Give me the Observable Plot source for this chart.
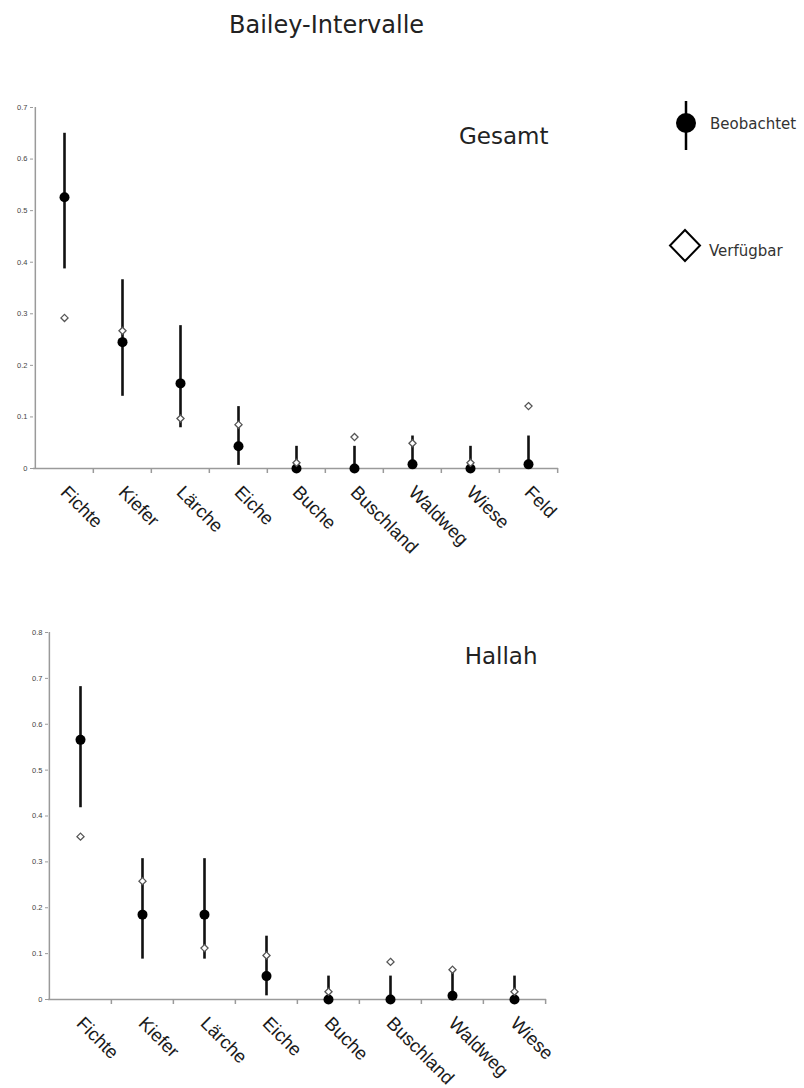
<!DOCTYPE html>
<html>
<head>
<meta charset="utf-8">
<script src="https://cdn.jsdelivr.net/npm/d3@7"></script>
<script src="https://cdn.jsdelivr.net/npm/@observablehq/plot@0.6"></script>
<style>
  html, body { margin: 0; padding: 0; background: #fff; }
  #page { position: relative; width: 804px; height: 1088px; overflow: hidden; background: #fff; }
  .abs { position: absolute; }
  #title { left: 229px; top: 13px; font: 24px "DejaVu Sans", Verdana, sans-serif; line-height: 24px; color: #222; white-space: nowrap; }
</style>
</head>
<body>
<div id="page">
  <div id="title" class="abs">Bailey-Intervalle</div>
  <div id="chart1" class="abs" style="left:0px; top:90px;"></div>
  <div id="chart2" class="abs" style="left:0px; top:600px;"></div>
  <svg id="legend" class="abs" style="left:0px; top:0px;" width="804" height="300">
    <line x1="686" y1="101" x2="686" y2="150" stroke="#000" stroke-width="2.5"></line>
    <circle cx="686" cy="123" r="10" fill="#000"></circle>
    <text x="710" y="129" font-family="DejaVu Sans, Verdana, sans-serif" font-size="15" fill="#333">Beobachtet</text>
    <path d="M685,230 L700,245.5 L685,261 L670,245.5 Z" fill="#fff" stroke="#000" stroke-width="2"></path>
    <text x="709" y="256" font-family="DejaVu Sans, Verdana, sans-serif" font-size="15" fill="#333">Verfügbar</text>
  </svg>
</div>
<script>
// ---- Data: Gesamt ----
const gesamtCategories = ["Fichte", "Kiefer", "Lärche", "Eiche", "Buche", "Buschland", "Waldweg", "Wiese", "Feld"];
const gesamtObserved  = [0.526, 0.245, 0.165, 0.043, 0.000, 0.000, 0.008, 0.000, 0.008];
const gesamtLower     = [0.387, 0.140, 0.079, 0.006, 0.000, 0.000, 0.000, 0.000, 0.000];
const gesamtUpper     = [0.650, 0.366, 0.277, 0.120, 0.043, 0.043, 0.063, 0.043, 0.063];
const gesamtAvailable = [0.292, 0.267, 0.097, 0.085, 0.011, 0.061, 0.049, 0.011, 0.121];
const gesamtTicks = [0, 0.1, 0.2, 0.3, 0.4, 0.5, 0.6, 0.7];

// ---- Data: Hallah ----
const hallahCategories = ["Fichte", "Kiefer", "Lärche", "Eiche", "Buche", "Buschland", "Waldweg", "Wiese"];
const hallahObserved  = [0.566, 0.185, 0.185, 0.051, 0.000, 0.000, 0.008, 0.000];
const hallahLower     = [0.418, 0.088, 0.088, 0.008, 0.000, 0.000, 0.000, 0.000];
const hallahUpper     = [0.682, 0.307, 0.307, 0.138, 0.051, 0.051, 0.063, 0.051];
const hallahAvailable = [0.355, 0.258, 0.112, 0.096, 0.017, 0.082, 0.065, 0.017];
const hallahTicks = [0, 0.1, 0.2, 0.3, 0.4, 0.5, 0.6, 0.7, 0.8];

function makeChart({cats, obs, low, high, avail, ticks, panelTitle, width, height, ml, mr, mt, mb, titleDx, titleDy}) {
  const data = cats.map((c, i) => ({cat: c, obs: obs[i], low: low[i], high: high[i], avail: avail[i]}));
  const bw = (width - ml - mr) / cats.length;
  const frameH = height - mt - mb;
  const axisColor = "#9a9a9a";
  return Plot.plot({
    width, height,
    marginLeft: ml, marginRight: mr, marginTop: mt, marginBottom: mb,
    style: {background: "transparent", overflow: "visible"},
    x: {type: "band", domain: cats, padding: 0, axis: null},
    y: {domain: [0, ticks[ticks.length - 1]], axis: null},
    marks: [
      // x axis line
      Plot.ruleY([0], {stroke: axisColor, strokeWidth: 1.5}),
      // y axis line (left edge of first band)
      Plot.ruleX([cats[0]], {x: d => d, dx: -bw / 2, stroke: axisColor, strokeWidth: 1.5}),
      // category boundary ticks below the axis
      Plot.ruleX(cats.slice(1), {x: d => d, dx: -bw / 2, insetTop: frameH, insetBottom: -5, stroke: axisColor, strokeWidth: 1.5}),
      Plot.ruleX([cats[cats.length - 1]], {x: d => d, dx: bw / 2, insetTop: frameH, insetBottom: -5, stroke: axisColor, strokeWidth: 1.5}),
      // y axis ticks and labels
      Plot.axisY(ticks, {
        tickSize: 3, tickPadding: 3,
        tickFormat: d => d === 0 ? "0" : d.toFixed(1),
        fontSize: 7.5, fontFamily: "Liberation Sans, Arial, sans-serif",
        fill: "#444", stroke: axisColor
      }),
      // category labels
      Plot.text(cats, {
        x: d => d,
        frameAnchor: "bottom", rotate: 45, textAnchor: "start", lineAnchor: "bottom",
        dx: -5, dy: 25, fontSize: 18.5, fontFamily: "Liberation Sans, Arial, sans-serif", fill: "#1a1a1a"
      }),
      // intervals
      Plot.ruleX(data, {x: "cat", y1: "low", y2: "high", stroke: "#111", strokeWidth: 2.6}),
      // observed
      Plot.dot(data, {x: "cat", y: "obs", r: 5, fill: "#000", stroke: "none"}),
      // available
      Plot.dot(data, {x: "cat", y: "avail", symbol: "diamond2", r: 3.2, fill: "#fff", stroke: "#555", strokeWidth: 1.3}),
      // panel title
      Plot.text([panelTitle], {
        frameAnchor: "top-right", textAnchor: "end", lineAnchor: "bottom",
        dx: titleDx, dy: titleDy, fontSize: 23, fontFamily: "DejaVu Sans, Verdana, sans-serif", fill: "#222"
      })
    ]
  });
}

document.getElementById("chart1").appendChild(makeChart({
  cats: gesamtCategories, obs: gesamtObserved, low: gesamtLower, high: gesamtUpper, avail: gesamtAvailable,
  ticks: gesamtTicks, panelTitle: "Gesamt",
  width: 570, height: 480, ml: 33, mr: 12, mt: 17, mb: 102, titleDx: -10, titleDy: 36
}));

document.getElementById("chart2").appendChild(makeChart({
  cats: hallahCategories, obs: hallahObserved, low: hallahLower, high: hallahUpper, avail: hallahAvailable,
  ticks: hallahTicks, panelTitle: "Hallah",
  width: 560, height: 488, ml: 48, mr: 14, mt: 32, mb: 89, titleDx: -9, titleDy: 31
}));
</script>
</body>
</html>
